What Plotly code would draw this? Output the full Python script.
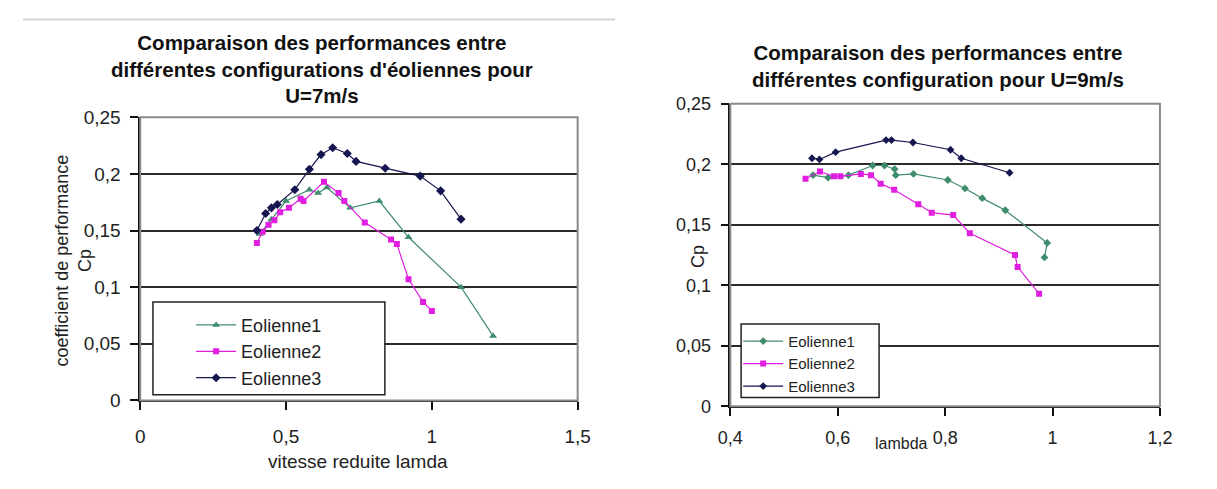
import plotly.graph_objects as go

# ---- U = 7 m/s : reduced speed (lambda) vs power coefficient Cp ----
lam7_e1 = [0.41, 0.45, 0.50, 0.58, 0.61, 0.64, 0.72, 0.82, 0.92, 1.10, 1.21]
cp7_e1 = [0.147, 0.160, 0.176, 0.186, 0.183, 0.188, 0.170, 0.176, 0.144, 0.100, 0.057]

lam7_e2 = [0.40, 0.42, 0.44, 0.46, 0.48, 0.51, 0.55, 0.56, 0.63, 0.68, 0.70,
           0.77, 0.86, 0.88, 0.92, 0.97, 1.00]
cp7_e2 = [0.139, 0.149, 0.155, 0.159, 0.166, 0.170, 0.178, 0.176, 0.193, 0.183, 0.176,
          0.157, 0.142, 0.138, 0.107, 0.087, 0.079]

lam7_e3 = [0.40, 0.43, 0.45, 0.47, 0.53, 0.58, 0.62, 0.66, 0.71, 0.74, 0.84, 0.96, 1.03, 1.10]
cp7_e3 = [0.150, 0.165, 0.170, 0.173, 0.186, 0.204, 0.217, 0.223, 0.218, 0.211, 0.205,
          0.198, 0.185, 0.160]

# ---- U = 9 m/s ----
lam9_e1 = [0.554, 0.582, 0.620, 0.665, 0.687, 0.706, 0.708, 0.741, 0.805, 0.837,
           0.869, 0.912, 0.990, 0.985]
cp9_e1 = [0.191, 0.189, 0.191, 0.199, 0.199, 0.196, 0.191, 0.192, 0.187, 0.180,
          0.172, 0.162, 0.135, 0.123]

lam9_e2 = [0.540, 0.567, 0.593, 0.605, 0.643, 0.662, 0.680, 0.705, 0.750, 0.775,
           0.815, 0.846, 0.930, 0.935, 0.975]
cp9_e2 = [0.188, 0.194, 0.190, 0.190, 0.192, 0.191, 0.184, 0.179, 0.167, 0.160,
          0.158, 0.143, 0.125, 0.115, 0.093]

lam9_e3 = [0.552, 0.566, 0.596, 0.690, 0.700, 0.740, 0.810, 0.830, 0.920]
cp9_e3 = [0.205, 0.204, 0.210, 0.220, 0.220, 0.218, 0.212, 0.205, 0.193]

series_names = ["Eolienne1", "Eolienne2", "Eolienne3"]
x_ticks_7 = [0, 0.5, 1, 1.5]
x_ticks_9 = [0.4, 0.6, 0.8, 1.0, 1.2]
y_ticks = [0, 0.05, 0.1, 0.15, 0.2, 0.25]

# ---- styling ----
W, H = 1217, 489
FONT = "Liberation Sans"
C_GREEN = "#3f8c6c"
C_MAG = "#e01ee0"
C_NAVY = "#15154f"


def fx(p):
    return p / W


def fy(p):
    return 1 - p / H


fig = go.Figure()

left_sets = [
    (lam7_e1, cp7_e1, C_GREEN, "triangle-up", 7),
    (lam7_e2, cp7_e2, C_MAG, "square", 6),
    (lam7_e3, cp7_e3, C_NAVY, "diamond", 7),
]
for name, (xs, ys, col, sym, sz) in zip(series_names, left_sets):
    fig.add_trace(go.Scatter(
        x=xs, y=ys, name=name, mode="lines+markers",
        line=dict(color=col, width=1.2),
        marker=dict(color=col, symbol=sym, size=sz),
        xaxis="x", yaxis="y", legend="legend",
    ))

right_sets = [
    (lam9_e1, cp9_e1, C_GREEN, "diamond", 6),
    (lam9_e2, cp9_e2, C_MAG, "square", 6),
    (lam9_e3, cp9_e3, C_NAVY, "diamond", 6),
]
for name, (xs, ys, col, sym, sz) in zip(series_names, right_sets):
    fig.add_trace(go.Scatter(
        x=xs, y=ys, name=name, mode="lines+markers",
        line=dict(color=col, width=1.2),
        marker=dict(color=col, symbol=sym, size=sz),
        xaxis="x2", yaxis="y2", legend="legend2",
    ))

axis_common = dict(
    showline=True, linecolor="#111", linewidth=1.5,
    ticks="outside", ticklen=8, tickcolor="#111", tickwidth=1.5,
    showgrid=False, zeroline=False,
    tickfont=dict(family=FONT, size=19, color="#222"),
)
yaxis_common = dict(axis_common, showgrid=True, gridcolor="#2a2a2a", gridwidth=1.8)

# plot rectangles in pixels (left, right, top, bottom)
L7 = (130, 577, 112, 408)
R9 = (733, 1172, 98, 414)

fig.update_layout(
    width=W, height=H,
    margin=dict(l=0, r=0, t=0, b=0),
    paper_bgcolor="white", plot_bgcolor="white",
    separators=", ",
    font=dict(family=FONT, color="#222"),
    xaxis=dict(axis_common, domain=[fx(L7[0]), fx(L7[1])], range=[0, 1.5],
               tickvals=x_ticks_7, anchor="y", ticklabelstandoff=10),
    yaxis=dict(yaxis_common, domain=[fy(L7[3]), fy(L7[2])], range=[0, 0.25],
               tickvals=y_ticks, anchor="x", ticklabelstandoff=6),
    xaxis2=dict(axis_common, domain=[fx(R9[0]), fx(R9[1])], range=[0.4, 1.2],
                tickvals=x_ticks_9, anchor="y2", ticklabelstandoff=6,
                tickfont=dict(family=FONT, size=18, color="#222")),
    yaxis2=dict(yaxis_common, domain=[fy(R9[3]), fy(R9[2])], range=[0, 0.25],
                tickvals=y_ticks, anchor="x2", ticklabelstandoff=6,
                tickfont=dict(family=FONT, size=18, color="#222")),
    legend=dict(
        x=fx(182), y=fy(310), xanchor="left", yanchor="top",
        bgcolor="rgba(0,0,0,0)", borderwidth=0, itemwidth=40,
        font=dict(family=FONT, size=18, color="#222"),
    ),
    legend2=dict(
        x=fx(741), y=fy(329), xanchor="left", yanchor="top",
        bgcolor="rgba(0,0,0,0)", borderwidth=0, itemwidth=40,
        font=dict(family=FONT, size=15, color="#222"),
    ),
    showlegend=True,
)

shapes = []
# gray plot-area frames
for (x0, x1, y0, y1) in (L7, R9):
    shapes.append(dict(type="rect", xref="paper", yref="paper",
                       x0=fx(x0), x1=fx(x1), y0=fy(y1), y1=fy(y0),
                       line=dict(color="#8a8a8a", width=2), layer="above"))
# legend boxes
shapes.append(dict(type="rect", xref="paper", yref="paper",
                   x0=fx(143), x1=fx(380), y0=fy(402), y1=fy(305),
                   line=dict(color="#222", width=1.5), fillcolor="white", layer="above"))
shapes.append(dict(type="rect", xref="paper", yref="paper",
                   x0=fx(744), x1=fx(885), y0=fy(405), y1=fy(328),
                   line=dict(color="#222", width=1.5), fillcolor="white", layer="above"))
# thin rule at the top of the left panel
shapes.append(dict(type="line", xref="paper", yref="paper",
                   x0=fx(10), x1=fx(615), y0=fy(10), y1=fy(10),
                   line=dict(color="#d4d4d4", width=2)))
fig.update_layout(shapes=shapes)

title_font = dict(family=FONT, size=20.5, color="#111")
ann = [
    dict(text="<b>Comparaison des performances entre<br>différentes configurations d'éoliennes pour<br>U=7m/s</b>",
         x=fx(316), y=fy(62), xanchor="center", yanchor="middle",
         font=title_font, align="center"),
    dict(text="<b>Comparaison des performances entre<br>différentes configuration pour U=9m/s</b>",
         x=fx(945), y=fy(58), xanchor="center", yanchor="middle",
         font=title_font, align="center"),
    dict(text="vitesse reduite lamda", x=fx(353), y=fy(472),
         xanchor="center", yanchor="middle",
         font=dict(family=FONT, size=19, color="#222")),
    dict(text="coefficient de performance<br>Cp", x=fx(62), y=fy(262),
         xanchor="center", yanchor="middle", textangle=-90,
         font=dict(family=FONT, size=18, color="#222")),
    dict(text="lambda", x=fx(908), y=fy(453),
         xanchor="center", yanchor="middle",
         font=dict(family=FONT, size=16, color="#222")),
    dict(text="Cp", x=fx(700), y=fy(258),
         xanchor="center", yanchor="middle", textangle=-90,
         font=dict(family=FONT, size=18, color="#222")),
]
for a in ann:
    a.update(xref="paper", yref="paper", showarrow=False)
fig.update_layout(annotations=ann)

fig.write_html("out.html")
